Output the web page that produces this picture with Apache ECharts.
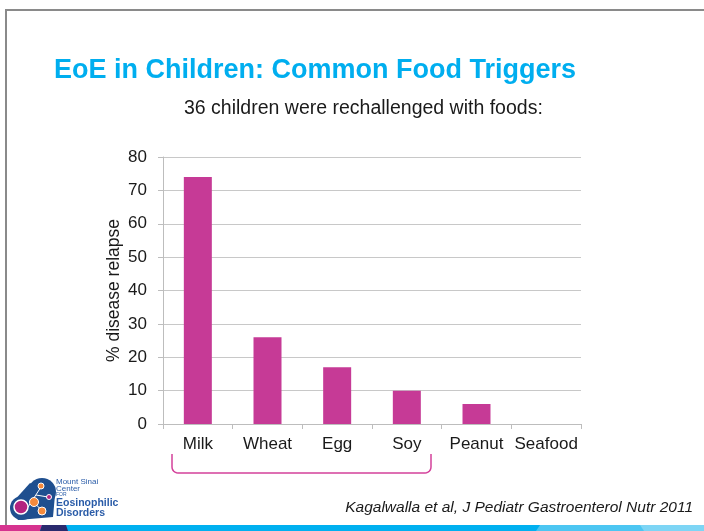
<!DOCTYPE html>
<html>
<head>
<meta charset="utf-8">
<script src="https://cdn.jsdelivr.net/npm/echarts@6/dist/echarts.min.js"></script>
<style>
  html, body { margin: 0; padding: 0; background: #fff; }
  #main { width: 704px; height: 531px; }
</style>
</head>
<body>
<div id="main"></div>
<script>
var foods = ['Milk', 'Wheat', 'Egg', 'Soy', 'Peanut', 'Seafood'];
var relapse = [74, 26, 17, 10, 6, 0];
var yTicks = [0, 10, 20, 30, 40, 50, 60, 70, 80];

var barColor = '#c63a96';
var font = 'Liberation Sans, Arial, sans-serif';

var myChart = echarts.init(document.getElementById('main'));

// rounded bracket under the first four foods (decoration only)
function bracketPoints(x1, x2, yTop, yBot, r) {
    var pts = [[x1, yTop], [x1, yBot - r]];
    var i, a;
    for (i = 1; i <= 6; i++) {
        a = Math.PI - (Math.PI / 2) * (i / 6);
        pts.push([x1 + r + r * Math.cos(a), yBot - r + r * Math.sin(a)]);
    }
    pts.push([x2 - r, yBot]);
    for (i = 1; i <= 6; i++) {
        a = Math.PI / 2 - (Math.PI / 2) * (i / 6);
        pts.push([x2 - r + r * Math.cos(a), yBot - r + r * Math.sin(a)]);
    }
    pts.push([x2, yTop]);
    return pts;
}

var option = {
    backgroundColor: '#fff',
    animation: false,
    title: [
        {
            text: 'EoE in Children: Common Food Triggers',
            left: 49,
            top: 52,
            textStyle: { color: '#00aeef', fontSize: 27, fontWeight: 'bold', fontFamily: font }
        },
        {
            text: '36 children were rechallenged with foods:',
            left: 179,
            top: 94,
            textStyle: { color: '#1a1a1a', fontSize: 19.5, fontWeight: 'normal', fontFamily: font }
        }
    ],
    grid: { left: 163, right: 123, top: 157, bottom: 107, containLabel: false },
    xAxis: {
        type: 'category',
        data: foods,
        boundaryGap: true,
        axisLine: { lineStyle: { color: '#bdbdbd', width: 1 } },
        axisTick: { show: true, length: 5, alignWithLabel: false, lineStyle: { color: '#bdbdbd' } },
        axisLabel: { color: '#1a1a1a', fontSize: 17, fontFamily: font, margin: 12, interval: 0 }
    },
    yAxis: {
        type: 'value',
        min: yTicks[0],
        max: yTicks[yTicks.length - 1],
        interval: 10,
        name: '% disease relapse',
        nameLocation: 'middle',
        nameRotate: 90,
        nameGap: 40,
        nameMoveOverlap: false,
        nameTextStyle: { color: '#1a1a1a', fontSize: 17.5, fontFamily: font },
        axisLine: { show: true, lineStyle: { color: '#bdbdbd', width: 1 } },
        axisTick: { show: true, length: 5, lineStyle: { color: '#bdbdbd' } },
        axisLabel: { color: '#1a1a1a', fontSize: 17, fontFamily: font, margin: 16 },
        splitLine: { lineStyle: { color: '#c8c8c8', width: 1 } }
    },
    series: [
        {
            type: 'bar',
            data: relapse,
            barWidth: 28,
            itemStyle: { color: barColor }
        }
    ],
    graphic: [
        // slide frame
        { type: 'line', shape: { x1: 6, y1: 10, x2: 704, y2: 10 }, style: { stroke: '#8a8a8a', lineWidth: 2 } },
        { type: 'line', shape: { x1: 6, y1: 9, x2: 6, y2: 525 }, style: { stroke: '#8a8a8a', lineWidth: 2 } },
        // bottom strip
        { type: 'rect', shape: { x: 0, y: 525, width: 704, height: 6 }, style: { fill: '#00b0f0' } },
        { type: 'polygon', shape: { points: [[540, 525], [704, 525], [704, 531], [536, 531]] }, style: { fill: '#4cc6f2' } },
        { type: 'polygon', shape: { points: [[640, 525], [704, 525], [704, 531], [644, 531]] }, style: { fill: '#7dd5f5' } },
        { type: 'polygon', shape: { points: [[0, 525], [42, 525], [40, 531], [0, 531]] }, style: { fill: '#d6338f' } },
        { type: 'polygon', shape: { points: [[42, 525], [66, 525], [68, 531], [40, 531]] }, style: { fill: '#2a2a6e' } },
        // bracket
        {
            type: 'polyline',
            shape: { points: bracketPoints(172, 431, 454, 473, 6) },
            style: { stroke: '#d4419b', lineWidth: 1.5, fill: null }
        },
        // citation
        {
            type: 'text',
            right: 11,
            top: 500,
            style: { text: 'Kagalwalla et al, J Pediatr Gastroenterol Nutr 2011', fill: '#1a1a1a', fontSize: 15.5, fontStyle: 'italic', fontFamily: font }
        },
        // logo
        {
            type: 'group',
            left: 10,
            top: 478,
            children: [
                { type: 'circle', shape: { cx: 34, cy: 15, r: 14 }, style: { fill: '#1f4f8f' } },
                { type: 'circle', shape: { cx: 14, cy: 31, r: 12 }, style: { fill: '#1f4f8f' } },
                { type: 'polygon', shape: { points: [[22, 6], [47, 18], [45, 40], [10, 43], [4, 26]] }, style: { fill: '#1f4f8f' } },
                { type: 'line', shape: { x1: 20, y1: 30, x2: 33, y2: 10 }, style: { stroke: '#ffffff', lineWidth: 1 } },
                { type: 'line', shape: { x1: 28, y1: 18, x2: 40, y2: 20 }, style: { stroke: '#ffffff', lineWidth: 1 } },
                { type: 'line', shape: { x1: 25, y1: 24, x2: 34, y2: 34 }, style: { stroke: '#ffffff', lineWidth: 1 } },
                { type: 'circle', shape: { cx: 13, cy: 30, r: 7 }, style: { fill: '#b3247f', stroke: '#ffffff', lineWidth: 1.5 } },
                { type: 'circle', shape: { cx: 26, cy: 25, r: 4.5 }, style: { fill: '#f58a3c', stroke: '#ffffff', lineWidth: 1 } },
                { type: 'circle', shape: { cx: 34, cy: 34, r: 4 }, style: { fill: '#f58a3c', stroke: '#ffffff', lineWidth: 1 } },
                { type: 'circle', shape: { cx: 33, cy: 9, r: 3 }, style: { fill: '#f58a3c', stroke: '#ffffff', lineWidth: 1 } },
                { type: 'circle', shape: { cx: 41, cy: 20, r: 2.5 }, style: { fill: '#b3247f', stroke: '#ffffff', lineWidth: 1 } },
                { type: 'text', x: 48, y: 1, style: { text: 'Mount Sinai', fill: '#2a5ca8', fontSize: 8, fontFamily: font } },
                { type: 'text', x: 48, y: 8, style: { text: 'Center', fill: '#2a5ca8', fontSize: 8, fontFamily: font } },
                { type: 'text', x: 48, y: 15, style: { text: 'FOR', fill: '#2a5ca8', fontSize: 5, fontFamily: font } },
                { type: 'text', x: 48, y: 21, style: { text: 'Eosinophilic', fill: '#2a5ca8', fontSize: 10.5, fontWeight: 'bold', fontFamily: font } },
                { type: 'text', x: 48, y: 31, style: { text: 'Disorders', fill: '#2a5ca8', fontSize: 10.5, fontWeight: 'bold', fontFamily: font } }
            ]
        }
    ]
};

myChart.setOption(option);
</script>
</body>
</html>
